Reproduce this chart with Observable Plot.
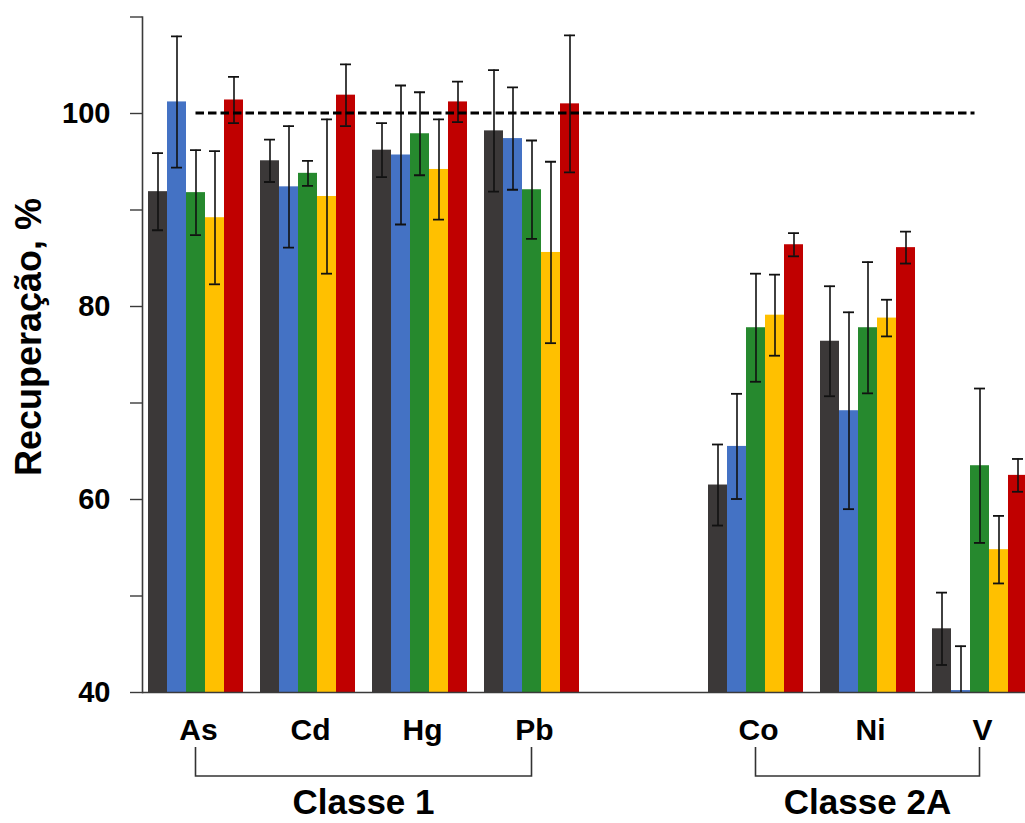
<!DOCTYPE html>
<html>
<head>
<meta charset="utf-8">
<script src="https://cdn.jsdelivr.net/npm/d3@7"></script>
<script src="https://cdn.jsdelivr.net/npm/@observablehq/plot@0.6"></script>
<style>
  html, body { margin: 0; padding: 0; background: #fff; overflow: hidden; }
  #chart svg { display: block; max-width: none !important; height: 823px !important; }
</style>
</head>
<body>
<div id="chart"></div>
<script>
// ---- Data ----
const elements = ["As", "Cd", "Hg", "Pb", "Co", "Ni", "V"];
const slots = ["As", "Cd", "Hg", "Pb", " ", "Co", "Ni", "V"]; // " " = empty slot between classes
const seriesNames = ["Série 1", "Série 2", "Série 3", "Série 4", "Série 5"];
const seriesColors = ["#3b3838", "#4472c4", "#26892e", "#ffc000", "#c00000"];

const values1 = [91.9, 95.1, 96.2, 98.2, 61.5, 76.4, 46.6];
const values2 = [101.2, 92.4, 95.7, 97.4, 65.5, 69.2, 40.2];
const values3 = [91.8, 93.8, 97.9, 92.1, 77.8, 77.8, 63.5];
const values4 = [89.2, 91.4, 94.2, 85.6, 79.1, 78.8, 54.8];
const values5 = [101.4, 101.9, 101.2, 101.0, 86.4, 86.1, 62.5];

const errors1 = [4.0, 2.2, 2.8, 6.3, 4.2, 5.7, 3.75];
const errors2 = [6.8, 6.3, 7.2, 5.3, 5.45, 10.2, 4.6];
const errors3 = [4.4, 1.3, 4.3, 5.1, 5.6, 6.8, 8.0];
const errors4 = [6.9, 8.0, 5.2, 9.4, 4.2, 1.9, 3.5];
const errors5 = [2.4, 3.2, 2.1, 7.1, 1.2, 1.65, 1.7];

const yTicks = [40, 50, 60, 70, 80, 90, 100, 110];
const yBase = 40;
const referenceLevel = 100;
const yTitle = "Recuperação, %";
const classGroups = [
  {name: "Classe 1", members: ["As", "Cd", "Hg", "Pb"]},
  {name: "Classe 2A", members: ["Co", "Ni", "V"]}
];

// ---- Build table ----
const allValues = [values1, values2, values3, values4, values5];
const allErrors = [errors1, errors2, errors3, errors4, errors5];
const data = [];
allValues.forEach((vals, i) => elements.forEach((el, j) => data.push({
  element: el, series: seriesNames[i], value: vals[j], err: allErrors[i][j]
})));

const font = "'Liberation Sans', Arial, Helvetica, sans-serif";
const marginLeft = 142;

const plot = Plot.plot({
  width: 1038,
  height: 823,
  marginLeft,
  marginRight: 0,
  marginTop: 16.5,
  marginBottom: 131,
  style: {fontFamily: font, background: "#fff", color: "#000"},
  fx: {domain: slots, padding: 0},
  x: {domain: seriesNames, padding: 0, insetLeft: 5, insetRight: 10, axis: null},
  y: {domain: [40, 110]},
  color: {domain: seriesNames, range: seriesColors},
  marks: [
    Plot.barY(data, {fx: "element", x: "series", y1: yBase, y2: "value", fill: "series"}),
    // error bars
    Plot.ruleX(data, {fx: "element", x: "series", y1: d => d.value - d.err, y2: d => d.value + d.err, stroke: "#111", strokeWidth: 1.6, clip: true}),
    Plot.tickY(data, {fx: "element", x: "series", y: d => d.value + d.err, insetLeft: 4, insetRight: 4, stroke: "#111", strokeWidth: 1.8, clip: true}),
    Plot.tickY(data, {fx: "element", x: "series", y: d => d.value - d.err, insetLeft: 4, insetRight: 4, stroke: "#111", strokeWidth: 1.8, clip: true}),
    // axes: baseline drawn in every slot (including the empty one)
    Plot.ruleY(slots, {fx: d => d, y: () => yBase, stroke: "#3a3a3a", strokeWidth: 1.6}),
    Plot.frame({anchor: "left", facetAnchor: "left", stroke: "#3a3a3a", strokeWidth: 1.6}),
    Plot.axisY({ticks: yTicks, tickFormat: d => d % 20 === 0 ? String(d) : "", tickSize: 12, tickPadding: 20,
      facetAnchor: "left", fontSize: 29, fontWeight: "bold", stroke: "#3a3a3a", strokeWidth: 1.4, label: null}),
    Plot.axisFx({anchor: "bottom", tickSize: 0, tickPadding: 26, fontSize: 30, fontWeight: "bold",
      tickFormat: d => d.trim(), label: null})
  ]
});

document.getElementById("chart").appendChild(plot);

// ---- Annotations positioned from the plot's own scales ----
const svg = d3.select(plot);
const fxS = plot.scale("fx"), xS = plot.scale("x"), yS = plot.scale("y");
const center = el => fxS.apply(el) - marginLeft + xS.apply(seriesNames[2]) + xS.bandwidth / 2;
const base = yS.apply(yBase);

// reference line at 100 %
svg.append("line")
  .attr("x1", center(elements[0])).attr("x2", center(elements[elements.length - 1]) - 5)
  .attr("y1", yS.apply(referenceLevel)).attr("y2", yS.apply(referenceLevel))
  .attr("stroke", "#000").attr("stroke-width", 3).attr("stroke-dasharray", "8.5,4");

classGroups.forEach(g => {
  const a = center(g.members[0]), b = center(g.members[g.members.length - 1]);
  svg.append("path")
    .attr("d", `M${a},${base + 55}V${base + 84}H${b}V${base + 55}`)
    .attr("fill", "none").attr("stroke", "#333").attr("stroke-width", 1.6);
  svg.append("text")
    .attr("x", (a + b) / 2).attr("y", base + 122)
    .attr("text-anchor", "middle")
    .attr("font-family", font).attr("font-size", 35).attr("font-weight", "bold")
    .attr("fill", "#000")
    .text(g.name);
});
svg.append("text")
  .attr("transform", `translate(28, 337) rotate(-90)`)
  .attr("text-anchor", "middle").attr("dy", "0.35em")
  .attr("font-family", font).attr("font-size", 36).attr("font-weight", "bold")
  .attr("fill", "#000")
  .text(yTitle);
</script>
</body>
</html>
